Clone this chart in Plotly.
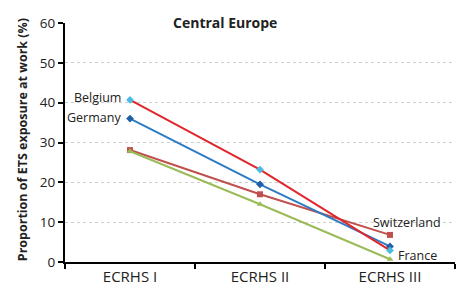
import plotly.graph_objects as go

categories = ["ECRHS I", "ECRHS II", "ECRHS III"]
belgium = [40.7, 23.2, 2.9]
germany = [36.0, 19.5, 3.9]
switzerland = [28.1, 17.0, 6.8]
france = [27.8, 14.5, 0.7]
y_ticks = [0, 10, 20, 30, 40, 50, 60]

FONT = "Open Sans"
fig = go.Figure()

def add(name, vals, line_color, marker_color, symbol, size):
    fig.add_trace(go.Scatter(
        x=categories, y=vals, mode="lines+markers", name=name,
        line=dict(color=line_color, width=2),
        marker=dict(color=marker_color, symbol=symbol, size=size),
        showlegend=False))

add("Switzerland", switzerland, "#C0504D", "#C0504D", "square", 6)
add("France", france, "#9BBB59", "#9BBB59", "triangle-up", 6)
add("Germany", germany, "#2E7BC4", "#1F5FA8", "diamond", 6)
add("Belgium", belgium, "#E0262B", "#4BBCE0", "diamond", 6)

ann_font = dict(family=FONT, size=12.5, color="#222")
fig.add_annotation(x=categories[0], y=belgium[0], text="Belgium", showarrow=False,
                   xanchor="right", xshift=-7, yshift=2, font=ann_font)
fig.add_annotation(x=categories[0], y=germany[0], text="Germany", showarrow=False,
                   xanchor="right", xshift=-7, yshift=1, font=ann_font)
fig.add_annotation(x=categories[2], y=switzerland[2], text="Switzerland", showarrow=False,
                   xanchor="center", xshift=17, yshift=12, font=ann_font)
fig.add_annotation(x=categories[2], y=france[2], text="France", showarrow=False,
                   xanchor="left", xshift=6, yshift=4, font=ann_font)

fig.add_annotation(xref="paper", yref="paper", x=0.41, y=1.0, text="<b>Central Europe</b>",
                   showarrow=False, xanchor="center", yanchor="middle", yshift=1,
                   font=dict(family=FONT, size=14, color="#222"))
fig.add_annotation(xref="paper", yref="paper", x=-0.11, y=0.51,
                   text="<b>Proportion of ETS exposure at work (%)</b>", textangle=-90,
                   showarrow=False, xanchor="center", yanchor="middle",
                   font=dict(family=FONT, size=12.5, color="#222"))

fig.update_xaxes(type="category", range=[-0.5, 2.5], tickson="boundaries",
                 ticks="outside", ticklen=5, tickwidth=1.5, tickcolor="black",
                 showline=True, linecolor="black", linewidth=2, showgrid=False,
                 automargin=False,
                 tickfont=dict(family=FONT, size=15, color="#222"), zeroline=False)
fig.update_yaxes(range=[0, 60], tickvals=y_ticks, ticks="outside", ticklen=5,
                 tickwidth=1.5, tickcolor="black", showline=True, linecolor="black",
                 linewidth=2, showgrid=True, gridcolor="#CFCFCF", griddash="dot",
                 gridwidth=1, zeroline=False, automargin=False,
                 tickfont=dict(family=FONT, size=13.5, color="#222"))

# page body has an 8px default margin; size the figure so the plot area
# lands where the reference's does inside the 464x291 window
fig.update_layout(width=456, height=283, margin=dict(l=57, r=9, t=15, b=29),
                  paper_bgcolor="white", plot_bgcolor="white")

fig.write_html("out.html")
